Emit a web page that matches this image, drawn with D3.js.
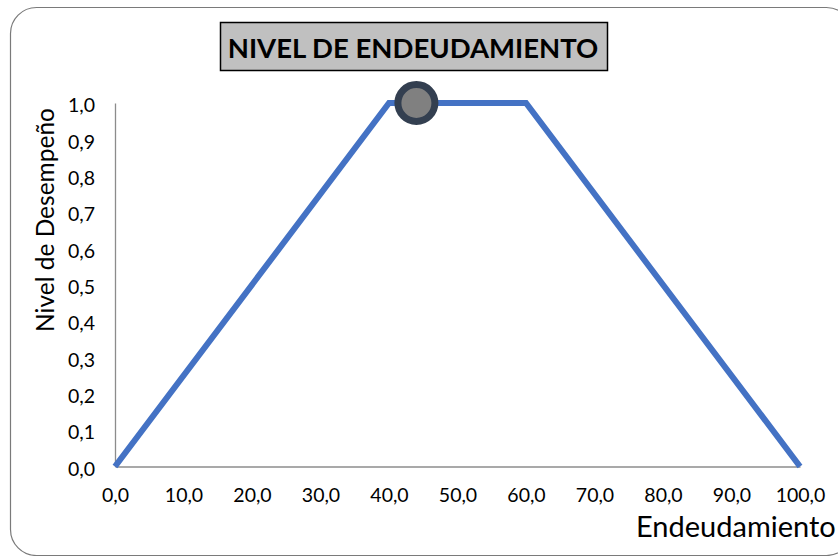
<!DOCTYPE html>
<html>
<head>
<meta charset="utf-8">
<script src="https://cdn.jsdelivr.net/npm/d3@7"></script>
<style>
  html, body { margin: 0; padding: 0; background: #fff; }
  svg { display: block; }
  text { font-family: Lato, "Open Sans", sans-serif; fill: #000; }
</style>
</head>
<body>
<div id="chart"></div>
<script>
// Performance curve for the debt level indicator
const debtLevels = [0, 40, 60, 100];
const performance = [0, 1, 1, 0];
const currentDebt = [44];
const currentPerformance = [1];
const xTicks = [0, 10, 20, 30, 40, 50, 60, 70, 80, 90, 100];
const yTicks = [0, 0.1, 0.2, 0.3, 0.4, 0.5, 0.6, 0.7, 0.8, 0.9, 1.0];
const chartTitle = "NIVEL DE ENDEUDAMIENTO";
const xTitle = "Endeudamiento";
const yTitle = "Nivel de Desempeño";

const W = 838, H = 556;
const fmt = v => v.toFixed(1).replace(".", ",");

const svg = d3.select("#chart").append("svg")
  .attr("width", W).attr("height", H);

// outer frame with rounded corners
svg.append("rect")
  .attr("x", 10.5).attr("y", 7.5)
  .attr("width", 842).attr("height", 548)
  .attr("rx", 26).attr("ry", 26)
  .attr("fill", "none").attr("stroke", "#7a7a7a").attr("stroke-width", 1.2);

const x = d3.scaleLinear().domain([0, 100]).range([115, 800]);
const y = d3.scaleLinear().domain([0, 1]).range([466.5, 103]);

// axes
const xAxis = svg.append("g").attr("transform", `translate(0,${y(0)})`)
  .call(d3.axisBottom(x).tickValues(xTicks).tickFormat(fmt).tickSize(0).tickPadding(22));
const yAxis = svg.append("g").attr("transform", `translate(${x(0)},0)`)
  .call(d3.axisLeft(y).tickValues(yTicks).tickFormat(fmt).tickSize(0).tickPadding(20));
[xAxis, yAxis].forEach(g => {
  g.select(".domain").attr("stroke", "#8c8c8c").attr("stroke-width", 1.3);
  g.selectAll("text").style("font-size", "19.5px").attr("fill", "#000")
    .style("font-family", "Lato, 'Open Sans', sans-serif");
});
yAxis.selectAll("text").attr("dy", "0.45em");

// curve
const line = d3.line().x((d, i) => x(debtLevels[i])).y(d => y(d));
svg.append("path").datum(performance)
  .attr("d", line)
  .attr("fill", "none").attr("stroke", "#4472C4")
  .attr("stroke-width", 6).attr("stroke-linejoin", "miter");

// current position marker
svg.selectAll("circle.marker").data(currentDebt).enter().append("circle")
  .attr("class", "marker")
  .attr("cx", d => x(d)).attr("cy", (d, i) => y(currentPerformance[i]))
  .attr("r", 18.5)
  .attr("fill", "#808080").attr("stroke", "#333F50").attr("stroke-width", 7);

// title box
const tg = svg.append("g");
tg.append("rect")
  .attr("x", 220.5).attr("y", 22.5).attr("width", 387).attr("height", 48)
  .attr("fill", "#C0C0C0").attr("stroke", "#000").attr("stroke-width", 1.5);
tg.append("text")
  .attr("x", 413).attr("y", 57.5).attr("text-anchor", "middle")
  .style("font-size", "27.5px").style("font-weight", "bold")
  .text(chartTitle);

// axis titles
svg.append("text")
  .attr("x", 636).attr("y", 537)
  .style("font-size", "29px")
  .text(xTitle);
svg.append("text")
  .attr("transform", "translate(54,220) rotate(-90)")
  .attr("text-anchor", "middle")
  .style("font-size", "24.5px")
  .text(yTitle);
</script>
</body>
</html>
